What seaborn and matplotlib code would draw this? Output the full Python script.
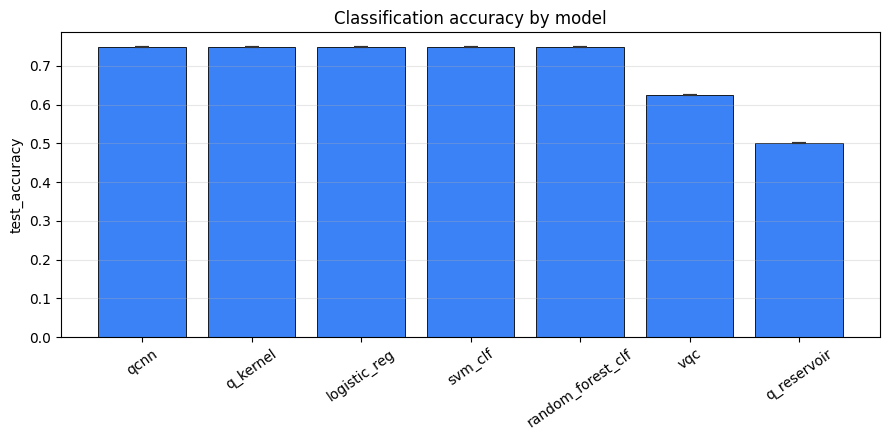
import matplotlib
matplotlib.use("Agg")
import matplotlib.pyplot as plt
import seaborn as sns
import pandas as pd

MODELS = ["qcnn", "q_kernel", "logistic_reg", "svm_clf", "random_forest_clf", "vqc", "q_reservoir"]
ACCURACY = [0.75, 0.75, 0.75, 0.75, 0.75, 0.625, 0.5]
ACC_STD = [0.0, 0.0, 0.0, 0.0, 0.0, 0.0, 0.0]

BAR_COLOR = "#3b82f6"

df = pd.DataFrame({"model": MODELS, "test_accuracy": ACCURACY, "std": ACC_STD})

fig, ax = plt.subplots(figsize=(8.89, 4.4), dpi=100)
sns.barplot(data=df, x="model", y="test_accuracy", order=MODELS,
            color=BAR_COLOR, saturation=1, width=0.8, errorbar=None,
            edgecolor="black", linewidth=0.6, ax=ax)
ax.errorbar(range(len(MODELS)), df["test_accuracy"], yerr=df["std"],
            fmt="none", ecolor="#333333", capsize=4.7, elinewidth=1, capthick=1.5)

ax.set_xlim(-0.74, len(MODELS) - 1 + 0.74)
ax.set_ylim(0, max(ACCURACY) * 1.05)
ax.grid(axis="y", alpha=0.3)
ax.set_title("Classification accuracy by model")
ax.set_xlabel("")
ax.set_ylabel("test_accuracy")
ax.tick_params(axis="x", rotation=35)

fig.subplots_adjust(left=0.0686, right=0.99, top=0.927, bottom=0.234)
fig.savefig("out.png", dpi=100)
